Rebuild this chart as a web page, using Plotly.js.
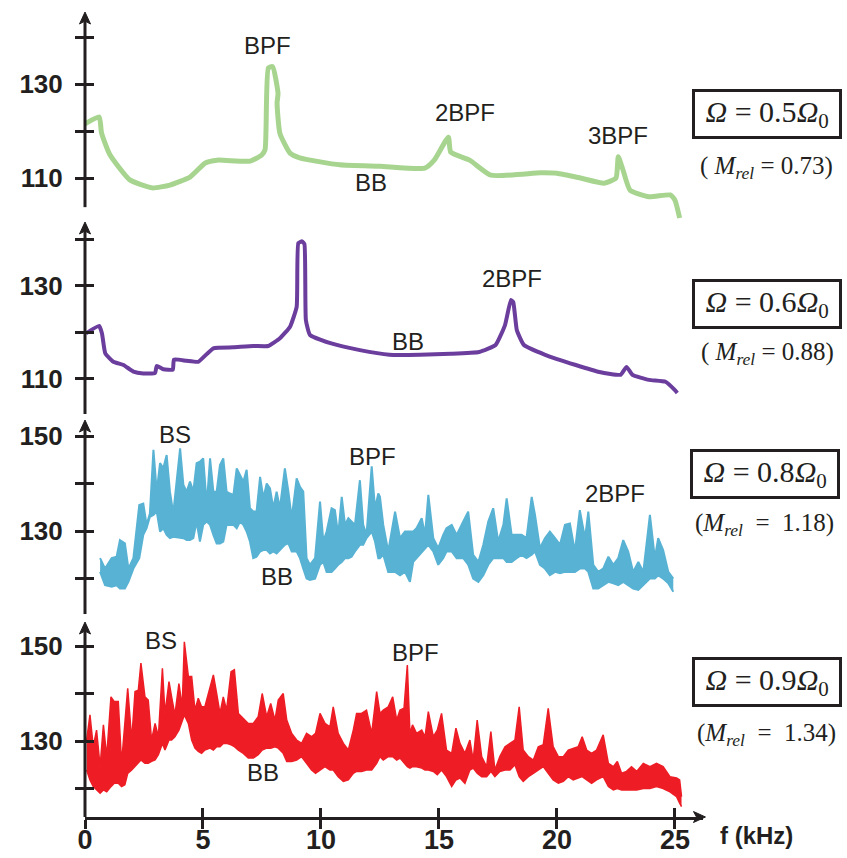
<!DOCTYPE html>
<html>
<head>
<meta charset="utf-8">
<script src="https://cdn.plot.ly/plotly-3.0.1.min.js"></script>
<style>html,body{margin:0;padding:0;background:#fff;}#chart{width:847px;height:858px;}</style>
</head>
<body>
<div id="chart"></div>
<script>
// ---------------- data ----------------
const greenFreq = [0.0,0.6,0.7,1.05,1.9,2.85,3.6,4.45,5.1,5.6,7.0,7.49,7.63,7.77,7.95,8.18,8.14,8.26,8.69,9.1,10.8,12.5,14.4,14.8,15.4,15.5,16.3,17.2,19.3,20.0,21.0,22.0,22.5,22.6,22.8,23.1,23.9,24.8,25.0,25.2];
const greenLevel = [121.5,123.0,119.6,115.0,109.6,107.9,108.5,110.2,113.2,113.8,113.6,114.9,116.0,133.4,133.7,128.0,126.0,119.5,115.3,114.3,112.8,112.5,112.1,113.8,118.7,115.5,113.8,110.6,111.1,111.0,110.0,108.9,110.0,114.5,111.7,107.4,106.0,106.4,105.3,101.5];

const purpleFreq = [0.04,0.6,0.72,0.86,1.2,1.63,2.05,2.47,2.97,3.04,3.32,3.72,3.77,4.31,4.8,5.44,6.29,7.13,7.77,8.26,8.69,8.97,9.04,9.2,9.3,9.36,9.53,10.4,11.65,12.9,14.2,15.5,16.7,17.4,17.8,18.05,18.15,18.3,18.6,19.5,20.8,21.8,22.7,22.95,23.2,23.9,24.6,25.0,25.1];
const purpleLevel = [119.8,121.4,119.8,115.5,113.7,113.0,111.6,111.2,111.3,112.8,112.1,112.0,114.2,113.9,113.7,116.6,116.8,117.1,117.1,118.75,121.25,125.5,139.2,139.6,139.0,122.7,119.5,117.7,116.2,115.2,115.2,115.4,115.8,117.3,121.6,127.0,126.5,120.5,117.3,115.2,113.0,111.5,110.9,112.6,110.9,109.8,109.4,107.6,107.0];

const cyanFreq = [0.64,0.85,1.13,1.34,1.48,1.69,1.84,2.05,2.3,2.47,2.61,2.75,2.9,3.04,3.18,3.32,3.46,3.6,3.74,4.03,4.17,4.31,4.45,4.59,4.73,4.87,5.01,5.16,5.3,5.44,5.58,5.72,5.86,6.0,6.14,6.29,6.43,6.57,6.71,6.85,6.99,7.13,7.27,7.42,7.56,7.7,7.84,7.98,8.12,8.26,8.47,8.62,8.76,8.97,9.11,9.25,9.39,9.53,9.75,9.96,10.1,10.24,10.45,10.59,10.73,10.88,11.02,11.16,11.3,11.44,11.65,11.79,11.93,12.15,12.29,12.43,12.5,12.64,12.85,13.14,13.35,13.56,13.77,13.91,14.05,14.27,14.41,14.55,14.76,14.97,15.18,15.32,15.54,15.75,16.03,16.24,16.45,16.67,16.88,17.09,17.3,17.51,17.73,17.87,18.08,18.29,18.5,18.71,18.93,19.07,19.28,19.49,19.7,19.92,20.13,20.34,20.55,20.76,20.97,21.19,21.33,21.54,21.75,21.96,22.18,22.39,22.6,22.81,23.02,23.23,23.45,23.66,23.94,24.15,24.29,24.5,24.72,24.93];
const cyanHigh = [124.3,122.1,124.3,124.6,128.1,127.4,122.1,124.3,135.5,135.8,131.3,133.7,147.1,138.3,144.3,143.2,146.0,138.3,133.7,147.4,139.7,138.3,140.4,138.3,144.3,144.6,145.3,135.5,145.3,138.3,138.3,143.9,145.3,138.3,137.9,137.6,143.2,141.8,140.4,142.9,134.8,134.1,134.1,141.4,136.9,140.0,139.0,134.8,138.3,134.8,143.2,138.3,132.7,141.1,139.3,138.3,124.3,122.9,124.3,136.2,127.8,129.9,134.8,134.4,129.2,137.2,131.3,132.7,132.0,131.3,140.7,131.3,129.2,143.6,134.8,137.9,137.2,131.3,125.7,134.1,128.5,129.9,129.9,129.9,130.6,132.7,129.2,137.6,128.5,126.4,129.2,130.6,131.3,129.2,132.0,134.1,125.0,123.5,127.1,132.0,134.8,127.8,131.3,136.9,129.2,129.2,129.2,128.5,137.2,133.4,126.4,128.5,129.9,128.5,127.1,131.3,131.6,125.7,134.4,128.5,134.1,122.9,121.4,122.1,124.6,122.9,124.3,128.1,125.7,121.4,123.5,121.4,133.4,124.3,128.5,126.0,121.4,120.0];
const cyanLow = [121.4,118.6,118.3,118.6,117.9,117.9,119.3,122.1,124.3,129.2,130.6,133.0,133.4,134.1,129.9,130.6,129.2,128.5,128.8,128.5,128.5,128.1,128.1,128.5,132.0,127.8,131.3,132.0,131.3,129.2,127.4,127.4,127.8,131.3,131.3,131.3,130.6,132.0,131.3,129.9,127.8,124.3,124.6,125.7,126.0,126.0,125.3,125.7,125.3,126.0,127.1,127.4,125.7,125.7,124.3,122.1,120.0,119.7,120.0,122.9,123.5,121.4,121.4,122.1,122.9,123.5,124.3,124.3,124.6,125.7,127.1,127.1,128.5,129.9,127.8,124.3,124.3,125.0,121.4,121.4,120.7,121.4,119.3,123.5,124.3,125.7,126.4,127.1,125.7,122.9,124.3,125.7,125.7,124.3,124.3,122.9,120.0,119.3,120.7,122.9,124.3,124.3,124.3,123.5,123.5,124.3,125.0,124.3,125.0,125.7,122.9,122.1,120.7,121.4,121.1,121.4,121.4,121.4,122.1,122.1,121.4,117.9,117.9,118.6,119.3,119.0,118.6,119.3,118.6,117.9,117.6,118.6,120.0,120.0,120.7,120.0,119.0,117.2];

const redFreq = [0.07,0.21,0.35,0.49,0.64,0.78,0.92,1.1,1.24,1.41,1.55,1.69,1.81,1.98,2.12,2.26,2.37,2.54,2.68,2.82,2.97,3.11,3.28,3.39,3.56,3.67,3.81,3.98,4.12,4.21,4.38,4.52,4.66,4.8,4.94,5.08,5.3,5.44,5.58,5.72,5.86,6.0,6.19,6.33,6.5,6.71,6.92,7.13,7.34,7.51,7.7,7.87,8.05,8.19,8.4,8.55,8.76,8.97,9.18,9.39,9.6,9.77,9.96,10.17,10.38,10.52,10.73,10.95,11.16,11.37,11.51,11.72,11.93,12.15,12.36,12.5,12.64,12.85,13.04,13.21,13.35,13.52,13.66,13.77,13.88,14.05,14.27,14.41,14.55,14.76,14.93,15.11,15.32,15.54,15.72,15.89,16.1,16.31,16.45,16.62,16.81,17.02,17.2,17.37,17.58,17.8,18.01,18.22,18.4,18.57,18.79,19.0,19.21,19.42,19.63,19.84,20.06,20.27,20.48,20.69,20.9,21.07,21.26,21.47,21.68,21.96,22.18,22.39,22.56,22.74,22.95,23.16,23.38,23.66,23.94,24.22,24.5,24.79,25.07,25.2,25.28];
const redHigh = [130.2,135.5,128.8,132.3,124.6,133.4,126.7,139.3,138.3,138.3,125.3,134.8,141.1,130.2,140.4,140.7,146.4,139.3,138.6,130.2,133.7,130.9,145.3,135.8,142.5,139.3,135.5,142.1,137.2,150.9,143.6,143.6,136.5,139.0,137.2,137.2,141.4,143.9,140.0,135.8,139.3,136.5,144.6,145.0,135.8,134.8,133.7,133.7,135.1,140.0,135.1,137.9,134.4,138.6,140.0,134.4,131.6,130.2,129.5,131.6,130.9,131.6,135.8,133.7,133.0,137.2,131.6,129.5,128.1,132.3,135.8,135.8,136.5,131.6,140.4,135.8,136.5,137.2,139.3,134.4,136.5,136.9,146.0,131.6,133.4,131.6,132.3,130.9,136.2,130.9,132.3,135.8,128.1,127.4,132.7,129.5,127.4,130.2,126.0,134.4,126.7,124.6,132.0,123.9,126.7,128.8,129.5,130.2,137.2,128.1,126.7,126.0,128.8,129.2,136.9,128.8,126.7,126.7,128.1,128.5,128.8,130.9,128.1,127.4,128.1,131.3,125.3,124.6,125.7,123.2,123.6,124.6,123.6,125.3,124.6,125.3,124.6,122.5,122.2,121.8,118.3];
const redLow = [123.9,121.8,120.4,119.7,119.0,119.7,119.3,120.4,121.1,121.1,120.4,120.8,123.2,123.9,124.6,125.3,126.0,125.3,125.3,125.7,126.0,127.1,129.5,128.1,130.2,130.2,130.9,132.3,134.4,135.5,133.7,130.2,128.5,127.8,127.4,128.1,128.5,128.1,128.8,128.8,129.5,129.5,129.2,128.8,128.1,127.4,126.4,126.4,127.1,128.1,128.5,128.5,128.8,128.5,127.4,125.7,125.7,126.0,126.7,125.3,123.9,123.2,123.9,124.6,123.9,123.9,122.5,121.5,121.8,123.2,123.6,123.6,123.9,123.9,125.3,126.7,126.0,126.7,126.7,126.0,126.4,125.3,124.6,124.3,124.6,124.6,124.3,123.9,123.9,123.6,122.9,123.9,122.5,120.4,121.8,122.2,121.1,123.9,124.3,123.2,122.5,122.5,123.6,122.5,123.6,123.9,123.9,125.0,122.5,121.5,122.5,123.2,123.9,124.6,123.2,121.8,121.1,121.5,122.5,121.8,122.2,122.5,121.8,121.1,121.8,122.5,120.4,119.7,120.0,119.7,119.7,119.7,119.7,120.0,120.0,120.4,120.0,119.3,118.3,116.9,116.2];

const xTickVals = [0,5,10,15,20,25];
const xTickText = ['0','5','10','15','20','25'];
const lowTickVals = [110,120,130,140];
const lowLabelVals = [110,130];
const lowMinorVals = [120,140];
const highTickVals = [120,130,140,150];
const highLabelVals = [130,150];
const highMinorVals = [120,140];

const omegaLabels = ['&nbsp;<i>Ω</i> = 0.5<i>Ω</i><sub>0</sub>&nbsp;','&nbsp;<i>Ω</i> = 0.6<i>Ω</i><sub>0</sub>&nbsp;','&nbsp;<i>Ω</i> = 0.8<i>Ω</i><sub>0</sub>&nbsp;','&nbsp;<i>Ω</i> = 0.9<i>Ω</i><sub>0</sub>&nbsp;'];
const machLabels = ['(&nbsp;<i>M</i><sub><i>rel</i></sub>&nbsp;=&nbsp;0.73)','(&nbsp;<i>M</i><sub><i>rel</i></sub>&nbsp;=&nbsp;0.88)','(<i>M</i><sub><i>rel</i></sub>&nbsp;&nbsp;=&nbsp;&nbsp;1.18)','(<i>M</i><sub><i>rel</i></sub>&nbsp;&nbsp;=&nbsp;&nbsp;1.34)'];

// peak labels: [panel, text, freq, level]
const peakLabels = [
  [1,'BPF',7.75,138.3],[1,'2BPF',16.1,124.0],[1,'3BPF',22.6,119.1],[1,'BB',12.1,109.1],
  [2,'BPF',9.75,144.0],[2,'2BPF',18.1,131.7],[2,'BB',13.7,118.0],
  [3,'BS',3.8,150.4],[3,'BPF',12.2,145.6],[3,'2BPF',22.45,137.8],[3,'BB',8.15,120.5],
  [4,'BS',3.2,151.1],[4,'BPF',14.0,148.7],[4,'BB',7.55,123.3]
];

// ---------------- layout constants ----------------
const INK = '#231f20';
const panels = [
  {range:[100.64,145.32], domain:[0.7373,0.9975], lineBottom:103.8, ticks:lowTickVals, labels:lowLabelVals, minor:lowMinorVals},
  {range:[102.47,143.76], domain:[0.4994,0.7373], lineBottom:102.47, ticks:lowTickVals, labels:lowLabelVals, minor:lowMinorVals},
  {range:[112.53,153.37], domain:[0.2515,0.4919], lineBottom:112.53, ticks:highTickVals, labels:highLabelVals, minor:highMinorVals},
  {range:[114.0,155.05], domain:[0.0,0.2416], lineBottom:114.0, ticks:highTickVals, labels:highLabelVals, minor:highMinorVals}
];
const boxY = [0.871,0.636,0.425,0.167];
const machY = [0.805,0.574,0.363,0.102];
const boxX = [1.103,1.104,1.100,1.103];

function paperY(p, v){
  const P = panels[p];
  return P.domain[0] + (v - P.range[0])/(P.range[1]-P.range[0])*(P.domain[1]-P.domain[0]);
}

const tickFont = {family:'Liberation Sans, Arial, sans-serif', size:26, color:INK, weight:'bold'};

const traces = [
  {x:greenFreq, y:greenLevel, xaxis:'x', yaxis:'y', mode:'lines', line:{color:'#a7d590', width:5, shape:'spline', smoothing:0.5}, hoverinfo:'skip'},
  {x:purpleFreq, y:purpleLevel, xaxis:'x', yaxis:'y2', mode:'lines', line:{color:'#6b3d9d', width:4, shape:'spline', smoothing:0.4}, hoverinfo:'skip'},
  {x:cyanFreq, y:cyanLow, xaxis:'x', yaxis:'y3', mode:'lines', line:{color:'#58b2d3', width:2}, hoverinfo:'skip'},
  {x:cyanFreq, y:cyanHigh, xaxis:'x', yaxis:'y3', mode:'lines', fill:'tonexty', fillcolor:'#58b2d3', line:{color:'#58b2d3', width:2}, hoverinfo:'skip'},
  {x:redFreq, y:redLow, xaxis:'x', yaxis:'y4', mode:'lines', line:{color:'#ee1d25', width:1.5}, hoverinfo:'skip'},
  {x:redFreq, y:redHigh, xaxis:'x', yaxis:'y4', mode:'lines', fill:'tonexty', fillcolor:'#ee1d25', line:{color:'#ee1d25', width:1.5}, hoverinfo:'skip'}
];
for (let i=0;i<4;i++) traces.push({x:[], y:[], xaxis:'x', yaxis:'y'+(5+i), mode:'lines', hoverinfo:'skip', showlegend:false});
traces.push({x:[], y:[], xaxis:'x2', yaxis:'y4', mode:'lines', hoverinfo:'skip', showlegend:false});

const layout = {
  width:847, height:858,
  margin:{l:85, r:144, t:10, b:41},
  paper_bgcolor:'#fff', plot_bgcolor:'rgba(0,0,0,0)',
  showlegend:false,
  xaxis:{range:[0,26.19], anchor:'y4', showline:true, linewidth:3, linecolor:INK, ticks:'outside', ticklen:9, tickwidth:3, tickcolor:INK,
         tickmode:'array', tickvals:xTickVals, ticktext:xTickText, tickfont:{family:'Liberation Sans, Arial, sans-serif', size:27, color:INK, weight:'bold'},
         ticklabelstandoff:-12, showgrid:false, zeroline:false, fixedrange:true},
  xaxis2:{range:[0,26.19], overlaying:'x', anchor:'y4', side:'bottom', ticks:'inside', ticklen:9, tickwidth:3, tickcolor:INK,
          tickmode:'array', tickvals:xTickVals, showticklabels:false, showgrid:false, zeroline:false, showline:false},
  shapes:[], annotations:[]
};

panels.forEach((P,i)=>{
  const name = i===0 ? 'yaxis' : 'yaxis'+(i+1);
  layout[name] = {range:P.range, domain:P.domain, anchor:'x', showline:false, ticks:'outside', ticklen:9, tickwidth:3, tickcolor:INK,
                  tickmode:'array', tickvals:P.labels, tickfont:tickFont, ticklabelstandoff:7,
                  minor:{tickmode:'array', tickvals:P.minor, ticks:'outside', ticklen:9, tickwidth:3, tickcolor:INK, showgrid:false},
                  showgrid:false, zeroline:false, fixedrange:true};
  layout['yaxis'+(5+i)] = {range:P.range, overlaying: i===0 ? 'y' : 'y'+(i+1), anchor:'x', side:'left', ticks:'inside', ticklen:9, tickwidth:3, tickcolor:INK,
                  tickmode:'array', tickvals:P.ticks, showticklabels:false, showgrid:false, zeroline:false, showline:false};
  layout.shapes.push({type:'line', xref:'paper', yref:'paper', x0:0, x1:0, y0:paperY(i,P.lineBottom), y1:P.domain[1]-0.006, line:{color:INK, width:3}});
  layout.shapes.push({type:'path', xref:'paper', yref:'paper', xsizemode:'pixel', ysizemode:'pixel', xanchor:0, yanchor:P.domain[1],
                      path:'M -5.5 -12 L 0 0 L 5.5 -12 L 0 -9 Z', fillcolor:INK, line:{color:INK, width:1}});
  layout.annotations.push({xref:'paper', yref:'paper', x:boxX[i], y:boxY[i], xanchor:'center', yanchor:'middle', text:omegaLabels[i],
                           showarrow:false, font:{family:'Liberation Serif, DejaVu Serif, serif', size:30, color:INK},
                           bordercolor:INK, borderwidth:3, borderpad:3, bgcolor:'#fff'});
  layout.annotations.push({xref:'paper', yref:'paper', x:boxX[i], y:machY[i], xanchor:'center', yanchor:'middle', text:machLabels[i],
                           showarrow:false, font:{family:'Liberation Serif, DejaVu Serif, serif', size:25, color:INK}});
});

layout.shapes.push({type:'path', xref:'paper', yref:'paper', xsizemode:'pixel', ysizemode:'pixel', xanchor:1.004, yanchor:0,
                    path:'M -12 5.5 L 0 0 L -12 -5.5 L -9 0 Z', fillcolor:INK, line:{color:INK, width:1}});
layout.annotations.push({xref:'paper', yref:'paper', x:1.087, y:-0.0235, xanchor:'center', yanchor:'middle', text:'f (kHz)', showarrow:false,
                         font:{family:'Liberation Sans, Arial, sans-serif', size:24, color:INK, weight:'bold'}});

peakLabels.forEach(([p,t,f,v])=>{
  layout.annotations.push({xref:'x', yref: p===1 ? 'y' : 'y'+p, x:f, y:v, text:t, showarrow:false, xanchor:'center', yanchor:'middle',
                           font:{family:'Liberation Sans, Arial, sans-serif', size:24, color:INK}});
});

Plotly.newPlot('chart', traces, layout, {staticPlot:true, displayModeBar:false});
</script>
</body>
</html>
